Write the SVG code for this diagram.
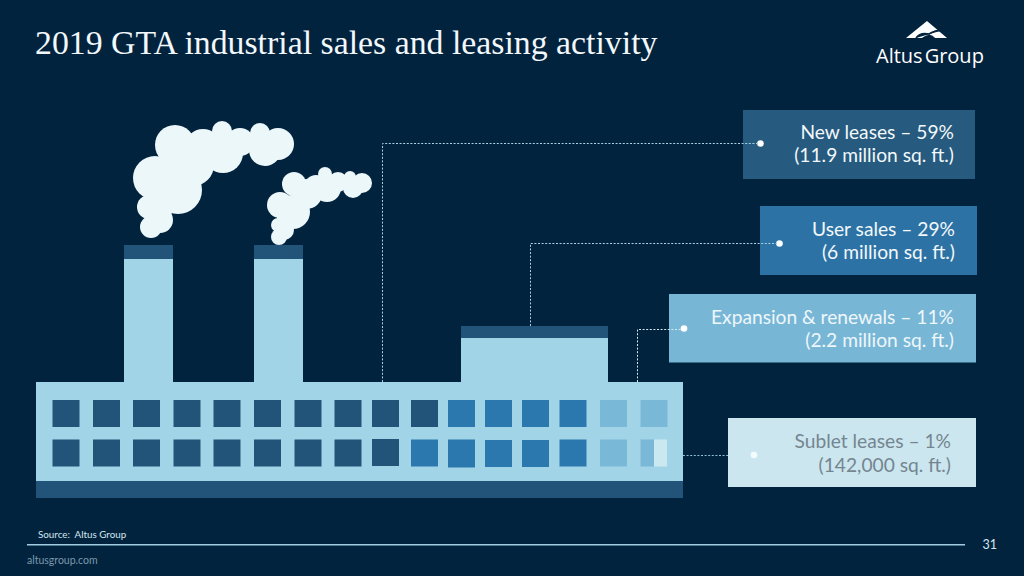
<svg xmlns="http://www.w3.org/2000/svg" width="1024" height="576" viewBox="0 0 1024 576">
<style>
.smoke{fill:#ecf7fa}
.lite{fill:#a2d4e8}
.dark{fill:#215478}
.mid{fill:#2b78ae}
.pale{fill:#7ab8d8}
.w1{fill:#215478}
.lab{font-family:Lato,"Liberation Sans",sans-serif;font-size:19.2px;text-anchor:end}
.conn{fill:none;stroke-width:1;stroke-dasharray:2 1.6}
</style>
<rect width="1024" height="576" fill="#02233e"/>
<text x="35" y="54" font-family="'Liberation Serif',serif" font-size="33.8" fill="#f2f8fb">2019 GTA industrial sales and leasing activity</text>
<g id="logo">
<path d="M927 21 L947 38 H906Z" fill="#fff"/>
<path d="M916 38 Q920 32 929 34 Q937 29 940 31 M923 38 Q930 33 934 38Z" fill="#02233e" stroke="#02233e" stroke-width="1.500"/>
<text x="876" y="63" font-family="'Open Sans',sans-serif" font-size="20" font-weight="500" fill="#fff">Altus<tspan dx="2">Group</tspan></text>
</g>
<g id="factory">
<rect class="dark" x="124" y="245" width="49" height="14"/><rect class="lite" x="124" y="259" width="49" height="123"/>
<rect class="dark" x="254" y="245" width="49" height="14"/><rect class="lite" x="254" y="259" width="49" height="123"/>
<rect class="dark" x="461" y="326" width="147" height="12"/><rect class="lite" x="461" y="338" width="147" height="44"/>
<rect class="lite" x="36" y="382" width="647" height="99"/>
<rect class="dark" x="36" y="481" width="647" height="17"/>
<g class="w1">
<rect x="52.500" y="400" width="27" height="27"/><rect x="93" y="400" width="27" height="27"/><rect x="133" y="400" width="27" height="27"/><rect x="173.500" y="400" width="27" height="27"/><rect x="213.500" y="400" width="27" height="27"/><rect x="254" y="400" width="27" height="27"/><rect x="294.500" y="400" width="27" height="27"/><rect x="334.500" y="400" width="27" height="27"/><rect x="372" y="400" width="27" height="27"/><rect x="411" y="400" width="27" height="27"/>
<rect x="52.500" y="439.500" width="27" height="27"/><rect x="93" y="439.500" width="27" height="27"/><rect x="133" y="439.500" width="27" height="27"/><rect x="173.500" y="439.500" width="27" height="27"/><rect x="213.500" y="439.500" width="27" height="27"/><rect x="254" y="439.500" width="27" height="27"/><rect x="294.500" y="439.500" width="27" height="27"/><rect x="334.500" y="439.500" width="27" height="27"/><rect x="372" y="439" width="27" height="27"/>
</g>
<g class="mid">
<rect x="448" y="400" width="27" height="27"/><rect x="485" y="400" width="27" height="27"/><rect x="522" y="400" width="27" height="27"/><rect x="559.500" y="400" width="27" height="27"/>
<rect x="411" y="439.500" width="27" height="27"/><rect x="448" y="439.500" width="27" height="28"/><rect x="485" y="440" width="27" height="27"/><rect x="522" y="440" width="27" height="27"/><rect x="559.500" y="439.500" width="27" height="27"/>
</g>
<g class="pale">
<rect x="600" y="400" width="27" height="27"/><rect x="640.500" y="400" width="27" height="27"/>
<rect x="600" y="439.500" width="27" height="27"/><rect x="640.500" y="439.500" width="14" height="27"/>
</g>
<rect x="654" y="439.500" width="13" height="27" fill="#c9e8ef"/>
</g>
<g id="smoke-left" class="smoke">
<circle cx="175" cy="145" r="20"/><circle cx="155" cy="178" r="22"/><circle cx="178" cy="190" r="24"/><circle cx="193" cy="165" r="21"/><circle cx="203" cy="147" r="18"/><circle cx="223" cy="153" r="20"/><circle cx="222" cy="131" r="10"/><circle cx="240" cy="142" r="14"/><circle cx="260" cy="133" r="10"/><circle cx="265" cy="150" r="16"/><circle cx="278" cy="144" r="16"/><circle cx="149" cy="207" r="12"/><circle cx="160" cy="220" r="13"/><circle cx="151" cy="227" r="11"/><circle cx="163" cy="205" r="12"/>
</g>
<g id="smoke-right" class="smoke">
<circle cx="294" cy="184" r="12"/><circle cx="307" cy="194" r="15"/><circle cx="316" cy="187" r="12"/><circle cx="325" cy="174" r="7"/><circle cx="327" cy="188" r="14"/><circle cx="338" cy="182" r="10"/><circle cx="350" cy="177" r="6"/><circle cx="353" cy="188" r="10"/><circle cx="362" cy="183" r="10"/><circle cx="280" cy="205" r="13"/><circle cx="293" cy="212" r="17"/><circle cx="278" cy="225" r="7"/><circle cx="284" cy="230" r="10"/><circle cx="279" cy="237" r="8"/>
</g>
<g id="new-leases">
<rect x="743" y="110" width="232" height="69" fill="#265a7e"/>
<circle cx="760.500" cy="143.500" r="3.300" fill="#fff"/>
<text class="lab" fill="#f2f8fb" x="954" y="139">New leases – 59%</text>
<text class="lab" fill="#f2f8fb" x="954" y="162">(11.9 million sq. ft.)</text>
</g>
<g id="user-sales">
<rect x="760" y="206" width="217" height="69" fill="#2d72a4"/>
<circle cx="779.500" cy="243.500" r="3.300" fill="#fff"/>
<text class="lab" fill="#f2f8fb" x="955" y="236">User sales – 29%</text>
<text class="lab" fill="#f2f8fb" x="955" y="259">(6 million sq. ft.)</text>
</g>
<g id="expansion">
<rect x="669" y="294" width="307" height="68.500" fill="#78b6d6"/>
<circle cx="684" cy="328.500" r="3.300" fill="#fff"/>
<text class="lab" fill="#eef7fa" x="954" y="324">Expansion &amp; renewals – 11%</text>
<text class="lab" fill="#eef7fa" x="954" y="347">(2.2 million sq. ft.)</text>
</g>
<g id="sublet">
<rect x="728" y="418" width="248" height="69" fill="#cbe6ef"/>
<circle cx="754" cy="455" r="3.300" fill="#f4fbfc"/>
<text class="lab" fill="#75858f" x="951" y="448">Sublet leases – 1%</text>
<text class="lab" fill="#75858f" x="951" y="472">(142,000 sq. ft.)</text>
</g>
<g id="connectors">
<path class="conn" stroke="#a8d3e4" d="M382.500 382V143.500H758"/>
<path class="conn" stroke="#a8d3e4" d="M530.500 326V243.500H777"/>
<path class="conn" stroke="#d4e9f1" d="M637.500 382V329.500H682"/>
<path class="conn" stroke="#8fc0d5" d="M683 455.500H728"/>
</g>
<text x="38" y="538" font-family="Lato,sans-serif" font-size="9.800" fill="#d3e6ef" style="white-space:pre">Source:  Altus Group</text>
<rect x="27" y="544" width="938" height="1.500" fill="#a2cde0"/>
<text x="997" y="549" font-family="Lato,sans-serif" font-size="12.500" fill="#d3e6ef" text-anchor="end">31</text>
<text x="27" y="564" font-family="Lato,sans-serif" font-size="10.500" fill="#7c98ac">altusgroup.com</text>
</svg>
